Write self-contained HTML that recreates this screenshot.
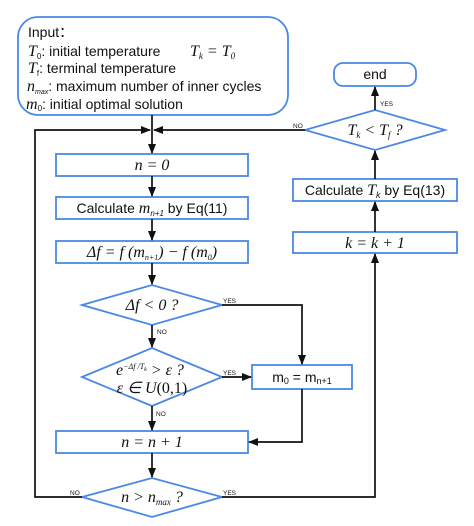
<!DOCTYPE html>
<html><head><meta charset="utf-8"><style>
body{margin:0;background:#fff}
svg{display:block}
.b{fill:#fff;stroke:#4a88e6;stroke-width:1.8}
.l{stroke:#111;stroke-width:1.7;fill:none}
.s{font-family:"Liberation Sans",sans-serif;font-size:14px;fill:#111}
.m{font-family:"Liberation Serif",serif;font-size:16px;fill:#111;font-style:italic}
.t{font-family:"Liberation Sans",sans-serif;font-size:6.5px;fill:#111}
</style></head><body>
<svg width="474" height="526" viewBox="0 0 474 526">
<defs><marker id="a" viewBox="0 0 10 10" refX="9" refY="5" markerWidth="6" markerHeight="6" orient="auto"><path d="M0,1L10,5L0,9z" fill="#111"/></marker></defs>
<g>
<rect class="b" x="18" y="17" width="270" height="98" rx="20"/>
<text class="s" x="28" y="37">Input：</text>
<text class="s" x="28" y="56"><tspan class="m">T</tspan><tspan font-size="8" dy="3">0</tspan><tspan dy="-3">: initial temperature</tspan></text>
<text class="m" x="190" y="56">T<tspan font-size="9" dy="3">k</tspan><tspan dy="-3"> = T</tspan><tspan font-size="9" dy="3">0</tspan></text>
<text class="s" x="28" y="73"><tspan class="m">T</tspan><tspan font-size="8" dy="3">f</tspan><tspan dy="-3">: terminal temperature</tspan></text>
<text class="s" x="27" y="91"><tspan class="m">n</tspan><tspan font-size="7" font-style="italic" dy="3">max</tspan><tspan dy="-3">: maximum number of inner cycles</tspan></text>
<text class="s" x="26" y="109"><tspan class="m">m</tspan><tspan font-size="8" dy="2">0</tspan><tspan dy="-2">: initial optimal solution</tspan></text>
</g>
<g><rect class="b" x="334" y="63" width="82" height="23" rx="9"/><text class="s" x="375" y="79" text-anchor="middle">end</text></g>
<g><polygon class="b" points="305,130 375,110 445,130 375,150"/><text class="m" x="375" y="135" text-anchor="middle">T<tspan font-size="9" dy="3">k</tspan><tspan dy="-3"> &lt; T</tspan><tspan font-size="9" dy="3">f</tspan><tspan dy="-3"> ?</tspan></text></g>
<g><rect class="b" x="293" y="179" width="164" height="22"/><text class="s" x="375" y="195" text-anchor="middle">Calculate <tspan class="m">T</tspan><tspan font-size="9" font-style="italic" dy="3">k</tspan><tspan dy="-3"> by Eq(13)</tspan></text></g>
<g><rect class="b" x="293" y="232" width="164" height="21"/><text class="m" x="375" y="248" text-anchor="middle">k = k + 1</text></g>
<g><rect class="b" x="56" y="154" width="192" height="22"/><text class="m" x="152" y="170" text-anchor="middle">n = 0</text></g>
<g><rect class="b" x="56" y="197" width="192" height="22"/><text class="s" x="152" y="213" text-anchor="middle">Calculate <tspan class="m">m</tspan><tspan font-size="8" font-style="italic" dy="3">n+1</tspan><tspan dy="-3"> by Eq(11)</tspan></text></g>
<g><rect class="b" x="56" y="241" width="192" height="22"/><text class="m" x="152" y="257" text-anchor="middle">Δf = f (m<tspan font-size="8" dy="3">n+1</tspan><tspan dy="-3">) − f (m</tspan><tspan font-size="8" dy="3">0</tspan><tspan dy="-3">)</tspan></text></g>
<g><polygon class="b" points="82,305 152,285 222,305 152,325"/><text class="m" x="152" y="310" text-anchor="middle" font-style="normal">Δ<tspan font-style="italic">f</tspan> &lt; 0  ?</text></g>
<g><polygon class="b" points="82,377 152,348 222,377 152,406"/><text class="m" x="150" y="375" text-anchor="middle">e<tspan font-size="8" dy="-6">−Δf /T</tspan><tspan font-size="6" dy="2">k</tspan><tspan dy="4"> &gt; ε  ?</tspan></text><text class="m" x="152" y="393" text-anchor="middle">ε ∈ U<tspan font-style="normal">(0,1)</tspan></text></g>
<g><rect class="b" x="252" y="365" width="100" height="24"/><text class="s" x="302" y="382" text-anchor="middle">m<tspan font-size="9" dy="2">0</tspan><tspan dy="-2"> = m</tspan><tspan font-size="9" dy="2">n+1</tspan></text></g>
<g><rect class="b" x="56" y="431" width="192" height="22"/><text class="m" x="152" y="447" text-anchor="middle">n = n + 1</text></g>
<g><polygon class="b" points="82,497 152,478 222,497 152,517"/><text class="m" x="152" y="502" text-anchor="middle">n &gt; n<tspan font-size="9" dy="3">max</tspan><tspan dy="-3"> ?</tspan></text></g>
<g>
<line class="l" x1="152" y1="115" x2="152" y2="153" marker-end="url(#a)"/>
<polyline class="l" points="82,497 35,497 35,130 150,130" marker-end="url(#a)"/>
<line class="l" x1="305" y1="130" x2="154" y2="130" marker-end="url(#a)"/>
<line class="l" x1="375" y1="110" x2="375" y2="87" marker-end="url(#a)"/>
<line class="l" x1="375" y1="179" x2="375" y2="151" marker-end="url(#a)"/>
<line class="l" x1="375" y1="232" x2="375" y2="202" marker-end="url(#a)"/>
<polyline class="l" points="222,497 375,497 375,254" marker-end="url(#a)"/>
<line class="l" x1="152" y1="176" x2="152" y2="196" marker-end="url(#a)"/>
<line class="l" x1="152" y1="219" x2="152" y2="240" marker-end="url(#a)"/>
<line class="l" x1="152" y1="263" x2="152" y2="284" marker-end="url(#a)"/>
<line class="l" x1="152" y1="325" x2="152" y2="347" marker-end="url(#a)"/>
<line class="l" x1="152" y1="406" x2="152" y2="430" marker-end="url(#a)"/>
<line class="l" x1="152" y1="453" x2="152" y2="477" marker-end="url(#a)"/>
<polyline class="l" points="222,305 302,305 302,364" marker-end="url(#a)"/>
<line class="l" x1="222" y1="377" x2="251" y2="377" marker-end="url(#a)"/>
<polyline class="l" points="302,389 302,442 249,442" marker-end="url(#a)"/>
</g>
<g>
<text class="t" x="293" y="128">NO</text>
<text class="t" x="380" y="106">YES</text>
<text class="t" x="223" y="303">YES</text>
<text class="t" x="157" y="334">NO</text>
<text class="t" x="223" y="375">YES</text>
<text class="t" x="156" y="416">NO</text>
<text class="t" x="70" y="495">NO</text>
<text class="t" x="223" y="495">YES</text>
</g>
</svg>
</body></html>
